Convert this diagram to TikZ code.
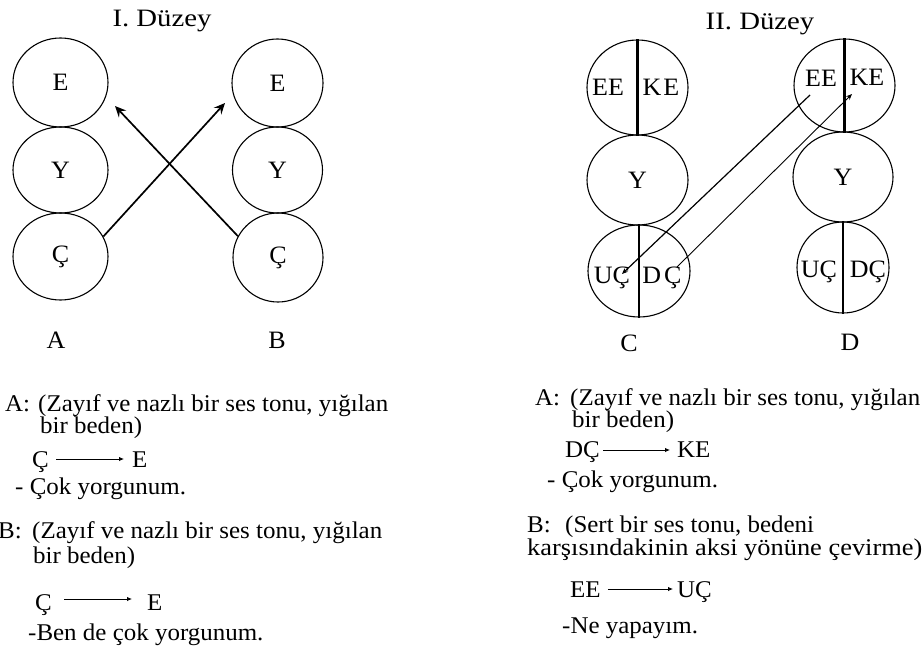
\documentclass[tikz,border=0pt]{standalone}
\usepackage{fontspec}
\setmainfont[FakeStretch=1.04]{Liberation Serif}
\newfontfamily\ttlfont[FakeStretch=1.15]{Liberation Serif}
\newfontfamily\widefont[FakeStretch=1.10]{Liberation Serif}
\usetikzlibrary{shapes.geometric,arrows.meta,calc}
\begin{document}
\begin{tikzpicture}[x=1pt,y=-1pt,
  ell/.style={ellipse,draw,line width=1.1pt,inner sep=0pt},
  lbl/.style={font=\fontsize{25}{25}\selectfont,inner sep=0pt},
  ttl/.style={font=\ttlfont\fontsize{25}{25}\selectfont,inner sep=0pt,anchor=base},
  txt/.style={font=\fontsize{24}{24}\selectfont,inner sep=0pt,anchor=base west},
  divider/.style={line width=2.2pt},
  bigarrow/.style={line width=1.7pt,-{Stealth[length=11pt,width=10pt,inset=4pt]}},
  thinarrow/.style={line width=0.9pt,-{Stealth[length=6pt,width=5pt]}},
  tarrow/.style={line width=0.9pt,-{Latex[length=5pt,width=4.5pt]}}
]
\useasboundingbox (0,0) rectangle (923,655);

% titles
\node[ttl] (t1) at (162,27) {I. Düzey};
\node[ttl] (t2) at (760,30) {II. Düzey};

% level I circles
\node[ell,lbl,minimum width=95pt,minimum height=89pt] (AE) at (60.5,82.5) {E};
\node[ell,lbl,minimum width=95pt,minimum height=86pt] (AY) at (60.5,170) {Y};
\node[ell,lbl,minimum width=95pt,minimum height=87pt] (AC) at (60.5,256.5) {Ç};
\node[ell,lbl,minimum width=91pt,minimum height=88pt] (BE) at (277.5,83) {E};
\node[ell,lbl,minimum width=90pt,minimum height=86pt] (BY) at (277.5,170) {Y};
\node[ell,lbl,minimum width=90pt,minimum height=89pt] (BC) at (278,257.5) {Ç};

\coordinate (tipB) at (225,103);
\coordinate (tipA) at (115,106);
\draw[bigarrow] (AC.25) -- (tipB);
\draw[bigarrow] (BC.152) -- (tipA);

\node[lbl] (labA) at (56,340) {A};
\node[lbl] (labB) at (277,340) {B};

% level II circles
\node[ell,minimum width=101pt,minimum height=95pt] (CT) at (637.5,87.5) {};
\node[ell,lbl,minimum width=101pt,minimum height=90pt] (CY) at (637.5,180) {Y};
\node[ell,minimum width=102pt,minimum height=92pt] (CB) at (639,271) {};
\node[ell,minimum width=101pt,minimum height=93pt] (DT) at (844.5,85.5) {};
\node[ell,lbl,minimum width=100pt,minimum height=90pt] (DY) at (843,177) {Y};
\node[ell,minimum width=92pt,minimum height=91pt] (DB) at (843,267.5) {};

\draw[divider] (CT.north) -- (CT.south);
\draw[divider] (CB.north) -- (CB.south);
\draw[divider] (DT.north) -- (DT.south);
\draw[divider] (DB.north) -- (DB.south);

\node[lbl] (cee) at (608,87) {EE};
\node[lbl] (cke) at (661,87) {K\kern2pt E};
\node[lbl] (cuc) at (612,278) {UÇ};
\node[lbl] (cdc) at (662,278) {D\kern3pt Ç};
\node[lbl] (dee) at (821,78) {EE};
\node[lbl] (dke) at (867,77) {KE};
\node[lbl] (duc) at (819,272) {UÇ};
\node[lbl] (ddc) at (868,272) {DÇ};

\coordinate (l1a) at (810,95);
\coordinate (l1b) at (622,274);
\coordinate (l2a) at (677,267);
\coordinate (l2b) at (852,94);
\draw[thinarrow,line width=1.2pt] (l1a) -- (l1b);
\draw[thinarrow] (l2a) -- (l2b);

\node[lbl] (labC) at (629,343) {C};
\node[lbl] (labD) at (850,342) {D};

% left text block
\node[txt] (la1) at (5,411) {A:};
\node[txt] (la2) at (38,411) {(Zayıf ve nazlı bir ses tonu, yığılan};
\node[txt] (la3) at (40,433) {bir beden)};
\node[txt] (la4) at (32,467) {Ç};
\node[txt] (la5) at (132,467) {E};
\draw[tarrow] ($(la4.base east)+(7,-8)$) -- ($(la5.base west)+(-8,-8)$);
\node[txt] (la6) at (15,494) {- Çok yorgunum.};
\node[txt] (lb1) at (-2,538) {B:};
\node[txt] (lb2) at (32,538) {(Zayıf ve nazlı bir ses tonu, yığılan};
\node[txt] (lb3) at (33,563) {bir beden)};
\node[txt] (lb4) at (35,610) {Ç};
\node[txt] (lb5) at (147,610) {E};
\draw[tarrow] ($(lb4.base east)+(12,-11)$) -- ($(lb5.base west)+(-15,-11)$);
\node[txt] (lb6) at (28,640) {-Ben de çok yorgunum.};

% right text block
\node[txt] (ra1) at (535,405) {A:};
\node[txt] (ra2) at (570,405) {(Zayıf ve nazlı bir ses tonu, yığılan};
\node[txt] (ra3) at (572,427) {bir beden)};
\node[txt] (ra4) at (565,457) {DÇ};
\node[txt] (ra5) at (677,457) {KE};
\draw[tarrow] ($(ra4.base east)+(3,-7)$) -- ($(ra5.base west)+(-7,-7)$);
\node[txt] (ra6) at (547,487) {- Çok yorgunum.};
\node[txt] (rb1) at (527,532) {B:};
\node[txt] (rb2) at (565,532) {(Sert bir ses tonu, bedeni};
\node[txt,font=\widefont\fontsize{24}{24}\selectfont] (rb3) at (527,555) {karşısındakinin aksi yönüne çevirme)};
\node[txt] (rb4) at (570,597) {EE};
\node[txt] (rb5) at (677,597) {UÇ};
\draw[tarrow] ($(rb4.base east)+(7,-8)$) -- ($(rb5.base west)+(-4,-8)$);
\node[txt] (rb6) at (562,633) {-Ne yapayım.};
\end{tikzpicture}
\end{document}
